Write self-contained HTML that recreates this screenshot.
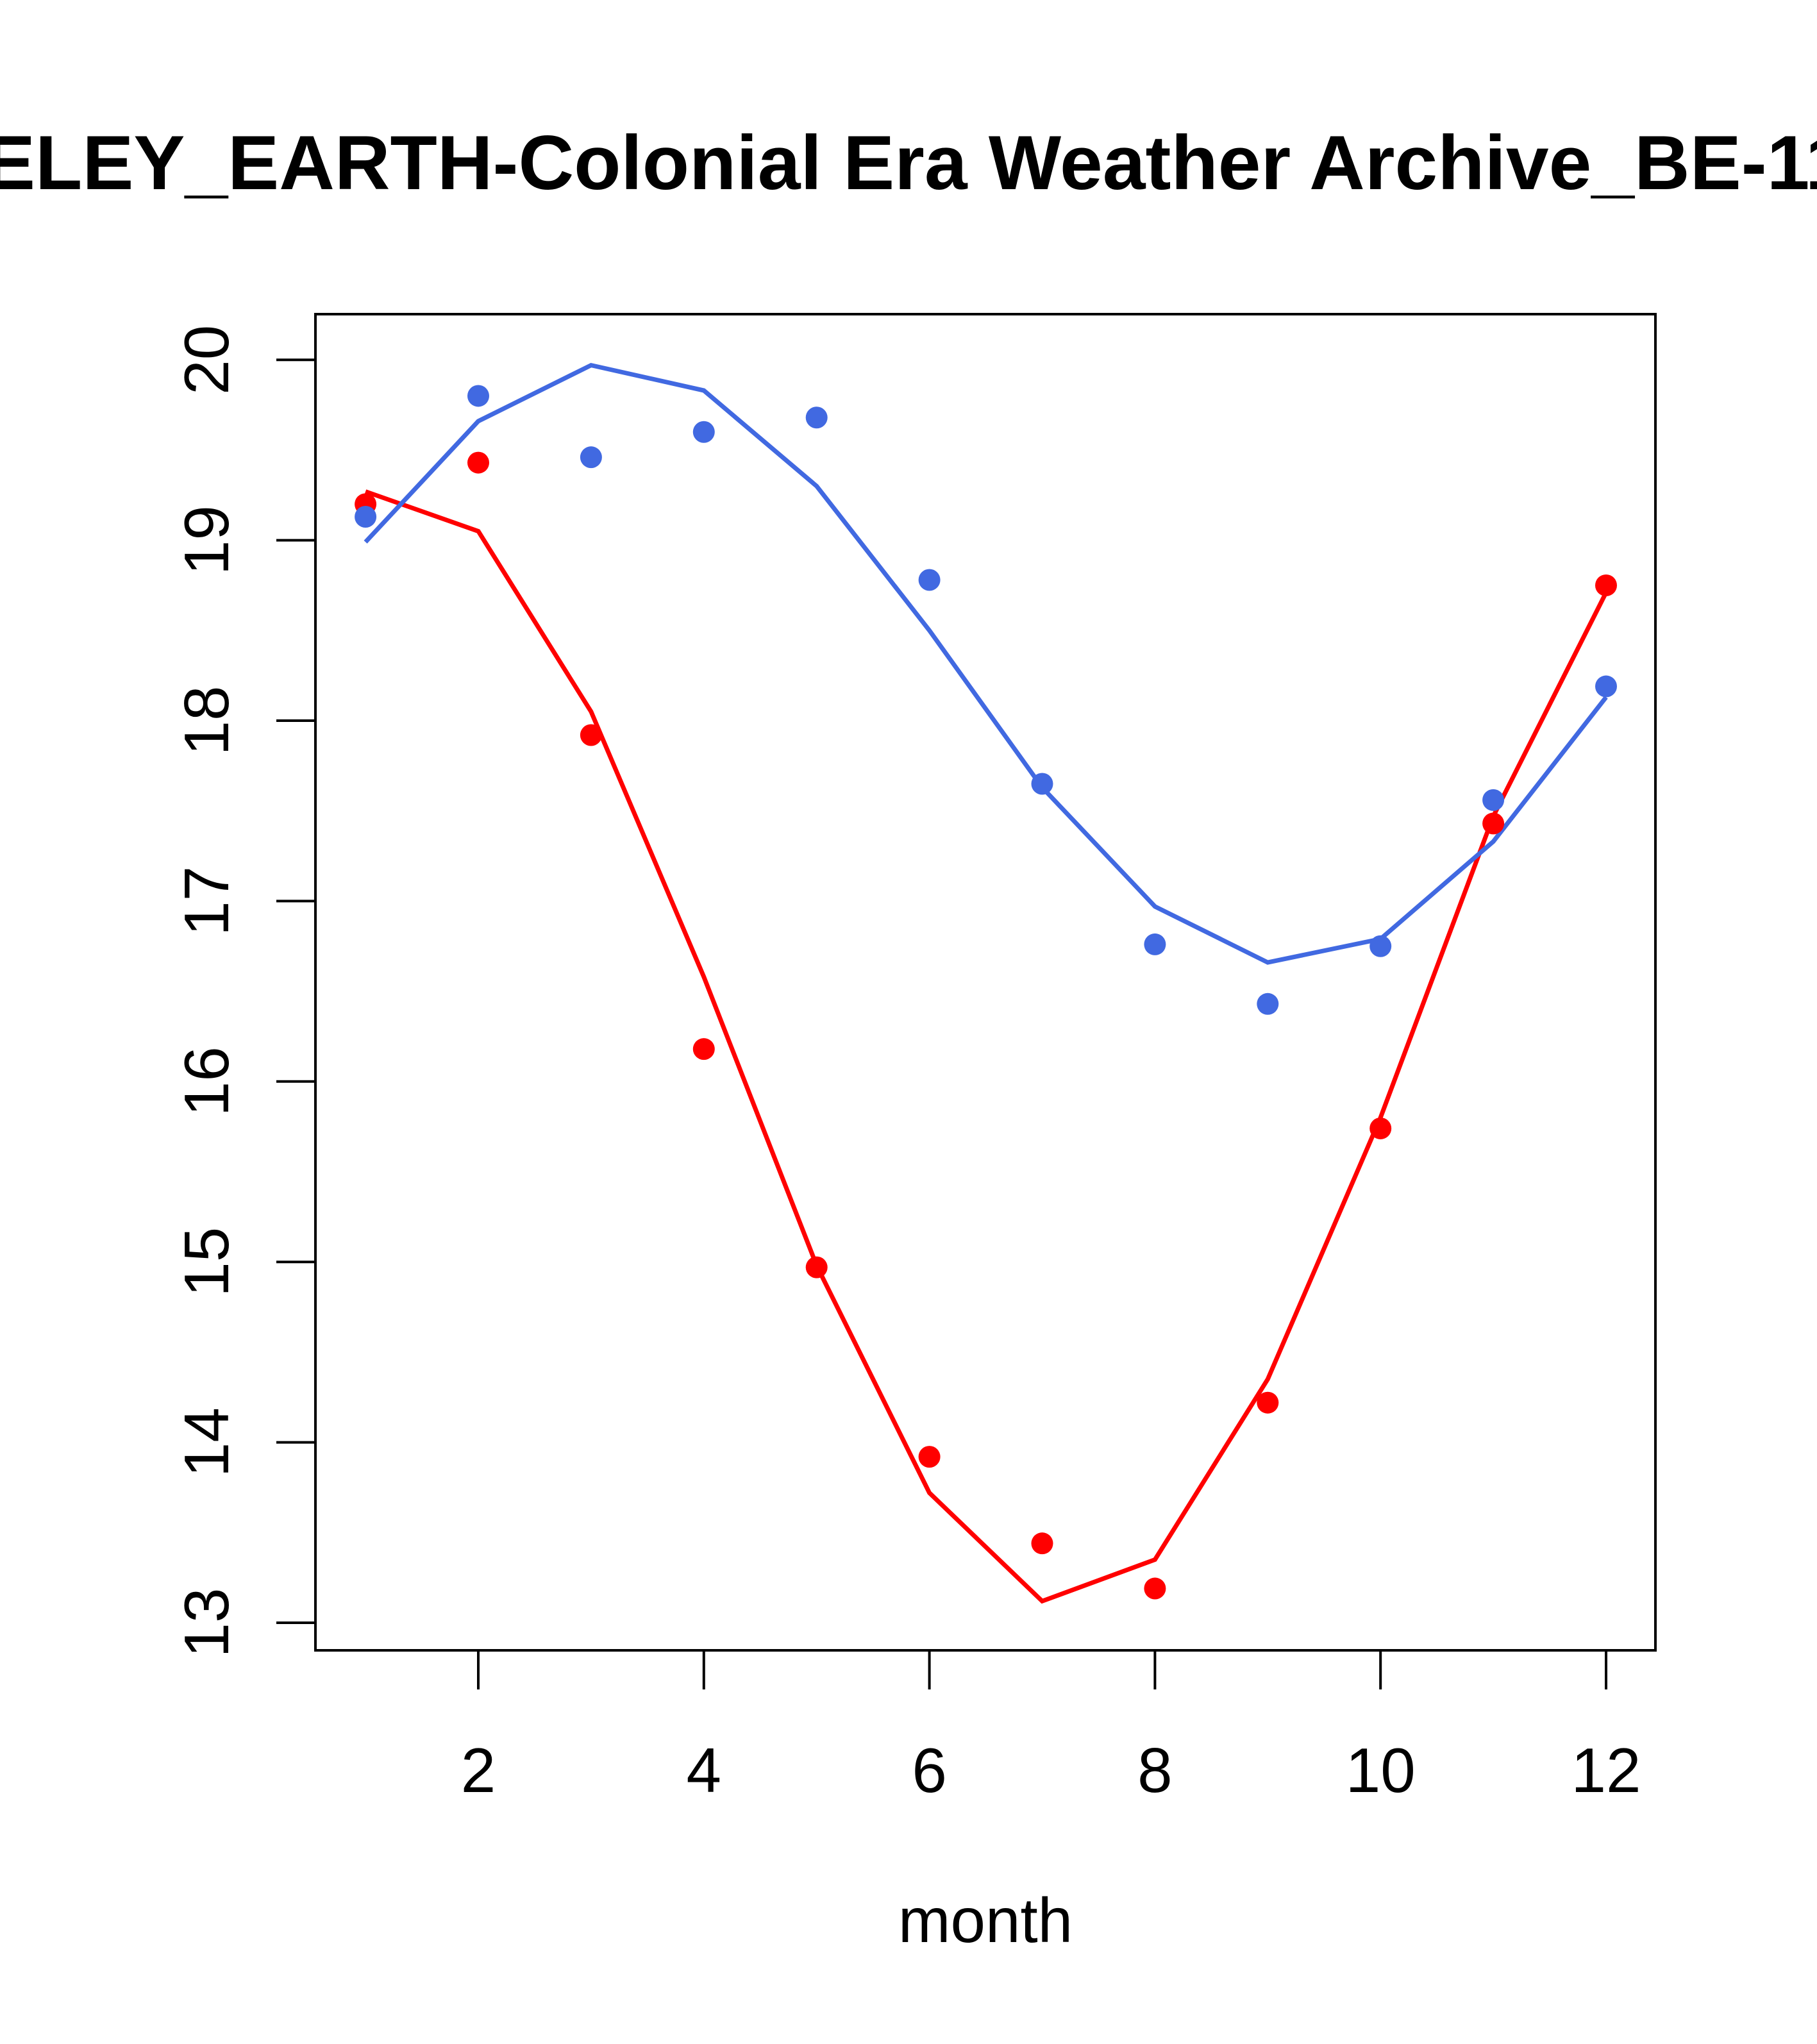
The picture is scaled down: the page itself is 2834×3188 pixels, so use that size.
<!DOCTYPE html>
<html><head><meta charset="utf-8"><style>
html,body{margin:0;padding:0;background:#fff;}
svg{display:block;font-family:"Liberation Sans",Arial,sans-serif;}
</style></head><body>
<svg id="chart" width="2834" height="3188" viewBox="0 0 2834 3188" xmlns="http://www.w3.org/2000/svg">
<text x="-365" y="295" font-size="120" font-weight="bold" text-anchor="start">BERKELEY_EARTH-Colonial Era Weather Archive_BE-11</text>
<rect x="492" y="490" width="2090" height="2084" fill="none" stroke="#000" stroke-width="4"/>
<g id="axes"></g>
<g id="series"></g>
<text x="1537" y="3029" font-size="98" text-anchor="middle">month</text>
</svg>
<script>
const months=[1,2,3,4,5,6,7,8,9,10,11,12];
const redPoints=[19.2,19.43,17.92,16.18,14.97,13.92,13.44,13.19,14.22,15.74,17.43,18.75];
const redLine=[19.27,19.05,18.05,16.58,14.98,13.72,13.12,13.35,14.35,15.8,17.47,18.71];
const bluePoints=[19.13,19.8,19.46,19.6,19.68,18.78,17.65,16.76,16.43,16.75,17.56,18.19];
const blueLine=[18.99,19.66,19.97,19.83,19.3,18.5,17.63,16.97,16.66,16.79,17.33,18.13];
const xTicks=[2,4,6,8,10,12];
const yTicks=[13,14,15,16,17,18,19,20];
const NS="http://www.w3.org/2000/svg";
function xs(v){return 746+(v-2)*175.9;}
function ys(v){return 2531-(v-13)*281.4;}
const axes=document.getElementById('axes');
const series=document.getElementById('series');
function mk(tag,attrs,parent){const e=document.createElementNS(NS,tag);for(const k in attrs)e.setAttribute(k,attrs[k]);parent.appendChild(e);return e;}
mk('line',{x1:xs(2),x2:xs(12),y1:2574,y2:2574,stroke:'#000','stroke-width':4},axes);
xTicks.forEach(t=>{
  const l=mk('line',{x1:xs(t),x2:xs(t),y1:2574,y2:2635,stroke:'#000','stroke-width':4},axes);
  
  
  const tx=mk('text',{x:xs(t),y:2795,'font-size':98,'text-anchor':'middle'},axes);
  tx.textContent=t;
  
  
});
mk('line',{x1:492,x2:492,y1:ys(13),y2:ys(20),stroke:'#000','stroke-width':4},axes);
yTicks.forEach(t=>{
  const y=ys(t);
  const l=mk('line',{x1:431,x2:492,y1:y,y2:y,stroke:'#000','stroke-width':4},axes);
  
  
  const tx=mk('text',{x:0,y:0,'font-size':98,'text-anchor':'middle',transform:`translate(356,${y}) rotate(-90)`},axes);
  tx.textContent=t;
  
  
});
function drawLine(vals,color,name){
  const p=mk('polyline',{points:vals.map((v,i)=>xs(months[i])+','+ys(v)).join(' '),fill:'none',stroke:color,'stroke-width':7},series);
  
  
}
function drawPts(vals,color,name){
  vals.forEach((v,i)=>{
    const c=mk('circle',{cx:xs(months[i]),cy:ys(v),r:17,fill:color},series);
    
    
  });
}
drawLine(redLine,'#FF0000','red-fit-line');
drawLine(blueLine,'#4169E1','blue-fit-line');
drawPts(redPoints,'#FF0000','red-point');
drawPts(bluePoints,'#4169E1','blue-point');
</script>
</body></html>
